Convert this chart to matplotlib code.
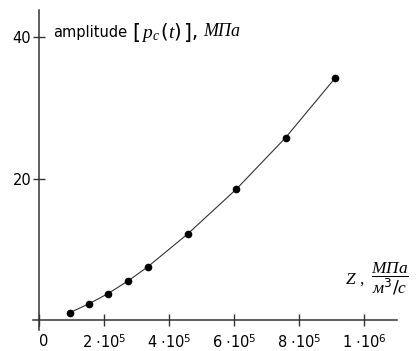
import numpy as np
import matplotlib
matplotlib.use('Agg')
import matplotlib.pyplot as plt

# данные
z = [0.95e5, 1.54e5, 2.11e5, 2.75e5, 3.34e5, 4.57e5, 6.06e5, 7.58e5, 9.10e5]
amp = [1.1, 2.35, 3.75, 5.6, 7.55, 12.2, 18.5, 25.8, 34.2]

xticks = [0, 2e5, 4e5, 6e5, 8e5, 1e6]
xlabels = ['0', r'$2\,\cdot\!10^5$', r'$4\,\cdot\!10^5$', r'$6\,\cdot\!10^5$',
           r'$8\,\cdot\!10^5$', r'$1\,\cdot\!10^6$']
yticks = [20, 40]

plt.rcParams['font.family'] = ['DejaVu Sans']
plt.rcParams['mathtext.fontset'] = 'custom'
plt.rcParams['mathtext.rm'] = 'DejaVu Sans'
plt.rcParams['mathtext.it'] = 'Liberation Serif:italic'
plt.rcParams['mathtext.bf'] = 'DejaVu Sans:bold'

W, H = 418, 351
fig = plt.figure(figsize=(W / 100, H / 100), dpi=100)
ax = fig.add_axes([33 / W, 21 / H, (397 - 33) / W, (341 - 21) / H])

ax.plot(z, amp, color='#333333', lw=0.8, marker='o', ms=4.5,
        mfc='black', mec='black')

ax.set_xlim(-0.018e6, 1.1e6)
ax.set_ylim(-1.35, 43.8)
ax.spines['left'].set_position(('data', 0))
ax.spines['bottom'].set_position(('data', 0))
ax.spines['right'].set_visible(False)
ax.spines['top'].set_visible(False)
for s in ['left', 'bottom']:
    ax.spines[s].set_color('#333333')
    ax.spines[s].set_linewidth(1.1)

ax.set_xticks(xticks)
ax.set_xticklabels(xlabels)
ax.set_yticks(yticks)
ax.tick_params(direction='inout', length=9, width=1.0, color='#333333',
               labelsize=10.5)
ax.tick_params(axis='x', pad=5)
ax.tick_params(axis='y', pad=1)
ax.get_xticklabels()[0].set_horizontalalignment('left')

# подпись оси y
fig.text(53 / W, 1 - 32 / H, 'amplitude', fontsize=10.5, va='center', ha='left')
fig.text(132 / W, 1 - 32 / H, r'$\left[\,p_c\,(t)\,\right]$,',
         fontsize=14, va='center', ha='left')
fig.text(203 / W, 1 - 32 / H, 'МПа', family='Liberation Serif', style='italic',
         fontsize=13, va='center', ha='left')

# подпись оси x
fig.text(346 / W, 1 - 280 / H, 'Z ,', family='Liberation Serif', style='italic',
         fontsize=12.5, va='center', ha='left')
fig.text(371 / W, 1 - 279 / H, r'$\dfrac{\mathit{МПа}}{\mathit{м}^3/\mathit{с}}$',
         fontsize=12.5, va='center', ha='left')

fig.savefig('out.png', dpi=100)
